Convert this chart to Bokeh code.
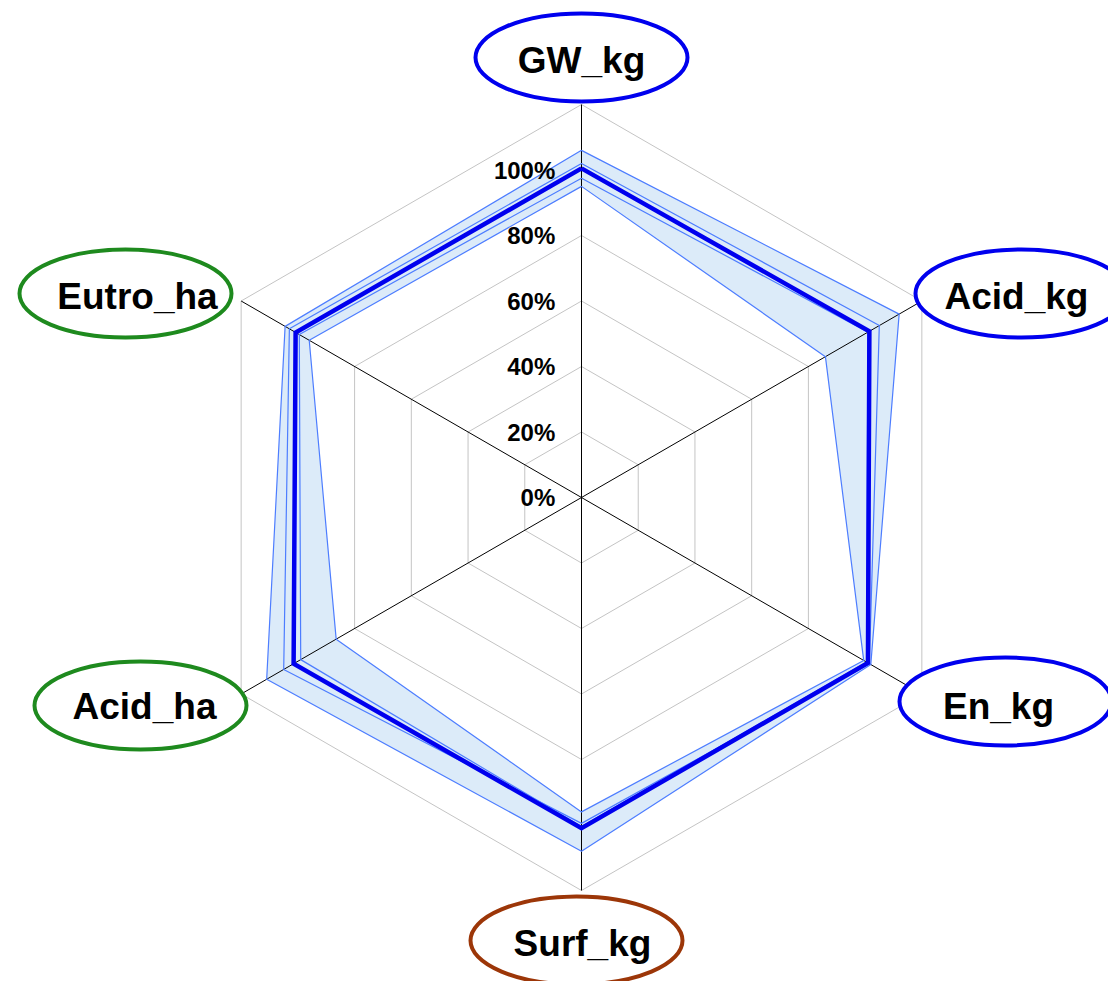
import numpy as np
from bokeh.plotting import figure
from bokeh.models import Range1d, ColumnDataSource
from bokeh.embed import file_html
from bokeh.resources import INLINE
from bokeh.core.properties import value

# ---------------- data ----------------
categories = ["GW_kg", "Acid_kg", "En_kg", "Surf_kg", "Acid_ha", "Eutro_ha"]
category_colors = ["#0000ee", "#0000ee", "#0000ee", "#9c3608", "#1e8a1e", "#1e8a1e"]
tick_values = [0, 20, 40, 60, 80, 100]
tick_labels = ["0%", "20%", "40%", "60%", "80%", "100%"]
grid_levels = [20, 40, 60, 80, 100, 120]
axis_max = 120

run_a = [106.0, 112.0, 102.0, 108.0, 111.0, 104.5]
run_b = [95.0, 86.0, 99.5, 96.0, 86.5, 96.0]
run_c = [102.0, 105.0, 101.5, 99.5, 105.0, 103.0]
run_d = [97.5, 101.0, 100.5, 100.5, 99.0, 99.5]
mean_run = [100.5, 101.5, 101.0, 101.0, 101.5, 100.8]

# ---------------- layout ----------------
W, H = 1108, 981
CX, CY = 581, 497          # chart centre in pixels
PX = 3.275                 # pixels per percent
angles = np.deg2rad([90, 30, -30, -90, -150, 150])

# label ellipse centres (pixel coords) and text centres
ell_px = [(581, 57), (1021, 293), (1005, 701), (576, 940), (140, 705), (125, 293)]
txt_px = [(581, 60), (1016, 296), (998, 706), (582, 943), (144, 706), (137, 296)]


def to_data(px, py):
    return (px - CX) / PX, (CY - py) / PX


def polar(vals):
    v = np.asarray(vals, dtype=float)
    return list(v * np.cos(angles)), list(v * np.sin(angles))


def closed(xs, ys):
    return xs + xs[:1], ys + ys[:1]


p = figure(width=W, height=H,
           x_range=Range1d(-CX / PX, (W - CX) / PX),
           y_range=Range1d(-(H - CY) / PX, CY / PX),
           x_axis_type=None, y_axis_type=None,
           output_backend="svg", toolbar_location=None, min_border=0)
p.grid.visible = False
p.outline_line_color = None
p.background_fill_color = "white"
p.border_fill_color = "white"

# grid hexagons
for lv in grid_levels:
    gx, gy = closed(*polar([lv] * 6))
    p.line(gx, gy, line_color="#c4c4c4", line_width=1)

# envelope band (between min and max of the runs)
runs = np.array([run_a, run_b, run_c, run_d])
hi_x, hi_y = polar(runs.max(axis=0))
lo_x, lo_y = polar(runs.min(axis=0))
p.multi_polygons(xs=[[[hi_x, lo_x]]], ys=[[[hi_y, lo_y]]],
                 fill_color="#dcebf9", line_color=None)

# spokes
for a in angles:
    p.line([0, axis_max * np.cos(a)], [0, axis_max * np.sin(a)],
           line_color="black", line_width=1)

# individual runs
for r in [run_a, run_b, run_c, run_d]:
    rx, ry = closed(*polar(r))
    p.line(rx, ry, line_color="#4d7dff", line_width=1.2)

# mean
mx, my = closed(*polar(mean_run))
p.line(mx, my, line_color="#0000ee", line_width=4.5, line_join="miter")

# tick labels
tsrc = ColumnDataSource(dict(x=[-8.0] * len(tick_values), y=tick_values, t=tick_labels))
p.text(x="x", y="y", text="t", source=tsrc, text_align="right", text_baseline="middle",
       text_font=value("Liberation Sans"), text_font_style="bold",
       text_font_size="24px", text_color="black")

# category labels
ex, ey = zip(*[to_data(*e) for e in ell_px])
p.ellipse(x=list(ex), y=list(ey), width=212, height=88, width_units="screen",
          height_units="screen", fill_color="white", line_color=category_colors,
          line_width=4)
tx, ty = zip(*[to_data(*t) for t in txt_px])
csrc = ColumnDataSource(dict(x=list(tx), y=list(ty), t=categories))
p.text(x="x", y="y", text="t", source=csrc, text_align="center", text_baseline="middle",
       text_font=value("Liberation Sans"), text_font_style="bold",
       text_font_size="37px", text_color="black")

open("out.html", "w").write(file_html(p, INLINE))
